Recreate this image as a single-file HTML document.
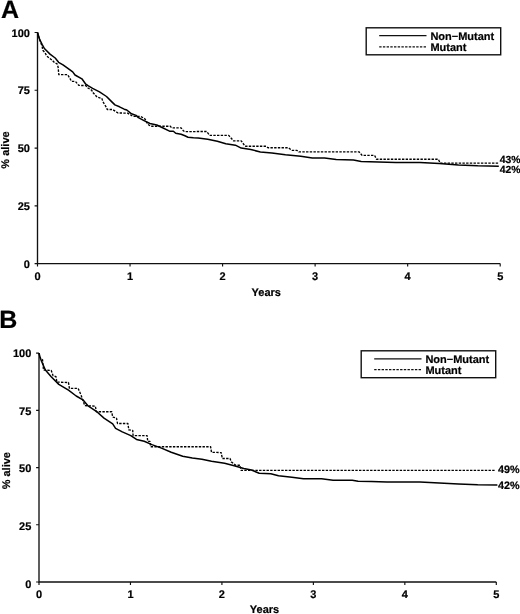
<!DOCTYPE html>
<html><head><meta charset="utf-8"><title>Survival</title>
<style>
html,body{margin:0;padding:0;background:#fff;}
body{width:520px;height:614px;overflow:hidden;}
svg{display:block;font-family:"Liberation Sans",Arial,Helvetica,sans-serif;font-weight:bold;font-size:11px;fill:#000;}
text{stroke:#000;stroke-width:0.2px;text-rendering:geometricPrecision;}
</style></head><body>
<svg width="520" height="614" viewBox="0 0 520 614">
<rect width="520" height="614" fill="#fff"/>
<g>
<path d="M37.5 32.5V263.6H500.2" fill="none" stroke="#111" stroke-width="1.35"/>
<path d="M37.5 32.50h-2.9M37.5 90.28h-2.9M37.5 148.05h-2.9M37.5 205.83h-2.9M37.5 263.60h-2.9M37.50 263.6v2.9M130.04 263.6v2.9M222.58 263.6v2.9M315.12 263.6v2.9M407.66 263.6v2.9M500.20 263.6v2.9" fill="none" stroke="#111" stroke-width="1.15"/>
<text x="29.9" y="36.60" text-anchor="end">100</text>
<text x="29.9" y="94.35" text-anchor="end">75</text>
<text x="29.9" y="152.10" text-anchor="end">50</text>
<text x="29.9" y="209.85" text-anchor="end">25</text>
<text x="29.9" y="267.60" text-anchor="end">0</text>
<text x="37.50" y="280.2" text-anchor="middle">0</text>
<text x="130.04" y="280.2" text-anchor="middle">1</text>
<text x="222.58" y="280.2" text-anchor="middle">2</text>
<text x="315.12" y="280.2" text-anchor="middle">3</text>
<text x="407.66" y="280.2" text-anchor="middle">4</text>
<text x="500.20" y="280.2" text-anchor="middle">5</text>
<text x="251.6" y="295.5">Years</text>
<text transform="translate(9.4 150) rotate(-90)" text-anchor="middle">% alive</text>
<text x="0.9" y="17.9" font-size="25" stroke-width="0.1">A</text>
<rect x="366.2" y="27.8" width="134.5" height="27.0" fill="#fff" stroke="#111" stroke-width="1.4"/>
<path d="M379.2 35.6h47.3" stroke="#111" stroke-width="1.3"/>
<path d="M379.2 46.9h47.3" stroke="#111" stroke-width="1.3" stroke-dasharray="2.4 1.3"/>
<text x="430.4" y="39.7">Non−Mutant</text>
<text x="430.4" y="50.8">Mutant</text>
<polyline points="37.5,32.5 39.5,39.3 42.1,46.3 42.8,50.2 45.1,52.8 46.7,56.0 49.3,58.0 51.9,60.0 54.5,62.6 57.1,63.9 58.1,67.1 58.8,74.6 67.7,74.6 71.5,81.3 75.5,81.5 78.8,85.4 85.8,85.6 88.0,88.0 91.8,90.3 92.6,92.2 97.2,97.2 101.8,98.4 103.0,101.8 106.5,107.6 107.2,109.5 112.6,109.5 118.0,113.0 127.6,113.1 132.6,116.2 140.7,116.5 144.5,118.5 146.0,120.4 147.6,124.2 150.7,126.2 170.3,126.2 171.5,127.8 181.1,127.8 183.4,130.8 184.5,131.6 206.7,131.5 209.6,135.4 228.7,135.4 233.5,140.8 241.2,140.8 245.0,146.2 266.2,146.2 268.0,147.7 288.3,147.7 292.1,150.4 297.0,150.4 298.8,151.9 359.2,151.9 362.1,155.4 374.6,155.4 376.5,159.2 438.3,159.2 440.2,163.1 498.8,163.1" fill="none" stroke="#000" stroke-width="1.35" stroke-dasharray="2.4 1.3" stroke-linejoin="round"/>
<polyline points="37.5,32.5 39.5,39.1 42.1,44.3 44.4,48.5 50.0,54.1 55.2,58.0 58.6,62.3 63.0,64.8 66.5,67.3 72.7,71.9 75.0,75.0 81.9,78.8 85.8,84.2 88.0,85.7 92.6,88.4 99.5,91.8 106.5,96.5 111.1,101.1 114.9,104.9 119.5,106.8 124.2,109.2 126.8,110.0 131.5,113.8 136.1,115.4 138.4,117.7 144.5,120.8 149.9,123.5 156.8,125.0 162.6,127.8 169.5,131.2 173.4,131.2 175.7,133.2 181.1,134.3 184.9,135.8 188.0,137.2 193.4,137.8 198.1,138.1 207.7,139.2 217.3,141.2 225.8,143.8 235.4,145.2 241.2,148.1 250.8,149.6 260.4,151.9 271.9,152.9 285.4,154.8 300.8,156.3 312.3,158.1 324.6,158.1 336.2,159.6 353.5,160.0 361.2,161.5 378.5,161.9 395.8,162.5 420.0,162.5 439.2,163.5 458.5,165.0 477.7,165.8 498.8,166.2" fill="none" stroke="#000" stroke-width="1.5" stroke-linejoin="round"/>
<text x="499.7" y="163.2" font-size="10.4">43%</text>
<text x="499.7" y="173.2" font-size="10.4">42%</text>
</g>
<g>
<path d="M39 353.1V582.0H496.3" fill="none" stroke="#111" stroke-width="1.35"/>
<path d="M39 353.10h-2.9M39 410.33h-2.9M39 467.55h-2.9M39 524.77h-2.9M39 582.00h-2.9M39.00 582.0v2.9M130.46 582.0v2.9M221.92 582.0v2.9M313.38 582.0v2.9M404.84 582.0v2.9M496.30 582.0v2.9" fill="none" stroke="#111" stroke-width="1.15"/>
<text x="31.3" y="356.90" text-anchor="end">100</text>
<text x="31.3" y="414.60" text-anchor="end">75</text>
<text x="31.3" y="472.30" text-anchor="end">50</text>
<text x="31.3" y="530.00" text-anchor="end">25</text>
<text x="31.3" y="587.70" text-anchor="end">0</text>
<text x="39.00" y="597.6" text-anchor="middle">0</text>
<text x="130.46" y="597.6" text-anchor="middle">1</text>
<text x="221.92" y="597.6" text-anchor="middle">2</text>
<text x="313.38" y="597.6" text-anchor="middle">3</text>
<text x="404.84" y="597.6" text-anchor="middle">4</text>
<text x="496.30" y="597.6" text-anchor="middle">5</text>
<text x="249.8" y="613">Years</text>
<text transform="translate(10 470.7) rotate(-90)" text-anchor="middle">% alive</text>
<text x="-0.7" y="327.7" font-size="25" stroke-width="0.1">B</text>
<rect x="361.2" y="350.8" width="134.5" height="26.9" fill="#fff" stroke="#111" stroke-width="1.4"/>
<path d="M374.2 358.9h47.3" stroke="#111" stroke-width="1.3"/>
<path d="M374.2 369.7h47.3" stroke="#111" stroke-width="1.3" stroke-dasharray="2.4 1.3"/>
<text x="425.4" y="363.1">Non−Mutant</text>
<text x="425.4" y="374.2">Mutant</text>
<polyline points="39.0,353.1 40.6,358.5 42.5,359.5 43.5,370.0 51.2,370.4 53.1,375.8 56.0,376.7 56.9,382.1 68.5,382.5 69.4,388.3 78.1,388.3 81.0,395.0 84.8,405.6 95.4,406.2 96.3,411.7 111.7,411.7 112.7,417.1 116.5,418.1 117.5,423.5 127.9,423.5 128.8,429.8 132.7,430.4 133.1,435.6 147.1,435.6 147.7,441.3 150.0,441.3 150.6,446.7 210.6,446.7 211.5,452.3 221.2,452.6 222.3,458.5 230.0,458.5 231.3,461.9 235.8,465.2 240.0,465.2 241.0,470.4 495.5,470.4" fill="none" stroke="#000" stroke-width="1.35" stroke-dasharray="2.4 1.3" stroke-linejoin="round"/>
<polyline points="39.0,353.1 39.8,356.5 41.5,361.3 45.4,370.0 51.2,376.7 58.8,384.4 68.5,390.2 76.2,396.0 82.9,399.8 87.7,405.6 96.3,411.3 104.0,418.1 112.7,423.8 115.6,428.3 122.3,431.9 130.8,435.6 136.5,439.4 144.2,441.3 151.9,444.6 161.5,448.1 171.2,452.3 182.7,456.2 192.3,458.1 201.9,459.2 211.5,461.2 224.6,463.3 234.2,465.8 243.8,468.5 251.5,470.0 259.2,473.3 270.8,473.8 278.5,475.8 291.9,477.3 303.5,478.7 321.5,478.7 333.1,480.2 352.3,480.2 358.1,481.2 371.5,481.5 386.9,482.1 420.0,482.1 439.2,482.9 458.5,484.0 477.7,484.8 497.4,485.0" fill="none" stroke="#000" stroke-width="1.5" stroke-linejoin="round"/>
<text x="497.9" y="473.4" font-size="10.8">49%</text>
<text x="497.9" y="488.8" font-size="10.8">42%</text>
</g>
</svg>
</body></html>
